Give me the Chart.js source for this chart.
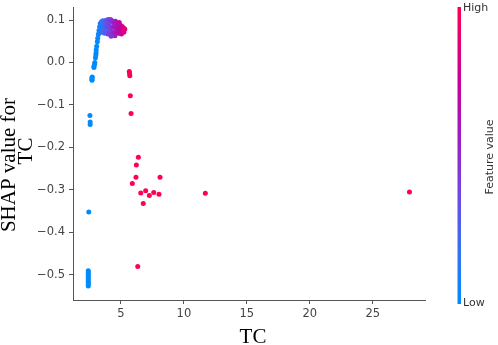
<!DOCTYPE html>
<html>
<head>
<meta charset="utf-8">
<script src="https://cdn.jsdelivr.net/npm/chart.js@4.4.0/dist/chart.umd.min.js"></script>
<style>
html,body{margin:0;padding:0;background:#fff;}
#wrap{width:498px;height:345px;position:relative;}
</style>
</head>
<body>
<div id="wrap"><canvas id="c" width="498" height="345"></canvas></div>
<script>
// ---- data (TC value, SHAP value) ----
const tcValues = [
  // lower blue column
  2.40,2.40,2.40,2.40,2.40,2.40,2.40,2.40,2.40,2.40,
  2.44,
  2.53,2.55,2.55,
  // rising blue column
  2.69,2.69,2.70,2.72,2.85,2.85,2.90,2.92,2.97,3.00,3.02,3.03,3.07,3.12,3.15,3.20,3.25,
  // cluster upper
  3.35,3.45,3.55,3.68,3.78,3.88,3.97,4.08,4.17,4.28,4.36,4.47,4.56,4.66,4.75,4.86,4.95,5.05,5.15,5.25,
  // cluster middle
  3.30,3.42,3.52,3.62,3.72,3.83,3.92,4.02,4.12,4.22,4.40,4.50,4.62,4.72,4.83,4.92,5.02,5.12,5.22,5.30,
  // cluster lower
  3.25,3.35,3.47,3.58,3.70,3.80,3.95,4.06,4.18,4.32,4.46,4.62,4.78,4.92,5.03,4.52,4.22,
  // pink points
  5.66,5.68,5.70,5.74,5.80,6.38,6.22,6.19,8.10,5.90,6.57,6.96,7.25,7.60,6.77,8.02,11.70,27.92,6.33
];
const shapValues = [
  -0.490,-0.494,-0.498,-0.502,-0.506,-0.510,-0.514,-0.518,-0.522,-0.526,
  -0.352,
  -0.125,-0.140,-0.146,
  -0.036,-0.040,-0.042,-0.034,-0.012,-0.009,-0.004,0.000,0.011,0.018,0.023,0.030,0.038,0.049,0.057,0.066,0.069,
  0.092,0.096,0.098,0.094,0.099,0.096,0.101,0.097,0.101,0.098,0.096,0.093,0.097,0.091,0.089,0.094,0.087,0.086,0.083,0.080,
  0.084,0.088,0.083,0.087,0.081,0.088,0.083,0.090,0.085,0.081,0.083,0.087,0.080,0.085,0.078,0.083,0.076,0.074,0.071,0.078,
  0.075,0.078,0.071,0.076,0.069,0.074,0.067,0.073,0.065,0.071,0.068,0.072,0.069,0.071,0.067,0.063,0.062,
  -0.021,-0.026,-0.031,-0.078,-0.120,-0.223,-0.241,-0.270,-0.270,-0.285,-0.307,-0.302,-0.313,-0.306,-0.332,-0.310,-0.308,-0.305,-0.480
];
const xTicks = [5, 10, 15, 20, 25];
const xTickLabels = ['5', '10', '15', '20', '25'];
const yTicks = [0.1, 0.0, -0.1, -0.2, -0.3, -0.4, -0.5];
const yTickLabels = ['0.1', '0.0', '\u22120.1', '\u22120.2', '\u22120.3', '\u22120.4', '\u22120.5'];
const colorMin = 3.1, colorMax = 5.6;   // feature value range of the colour scale
const xTitle = 'TC';
const yTitleLines = ['SHAP value for', 'TC'];
const cbarHigh = 'High', cbarLow = 'Low', cbarTitle = 'Feature value';

// ---- colour map (SHAP red_blue approximation) ----
const stops = [
  [0.00, [0, 139, 251]],
  [0.20, [58, 111, 242]],
  [0.40, [122, 63, 224]],
  [0.55, [154, 31, 196]],
  [0.75, [200, 0, 156]],
  [1.00, [255, 0, 82]]
];
function cmap(t){
  t = Math.max(0, Math.min(1, t));
  for (let i = 1; i < stops.length; i++){
    if (t <= stops[i][0]){
      const a = stops[i-1], b = stops[i];
      const f = (t - a[0]) / (b[0] - a[0]);
      const c = a[1].map((v, k) => Math.round(v + (b[1][k] - v) * f));
      return 'rgb(' + c.join(',') + ')';
    }
  }
  return 'rgb(255,0,82)';
}

const points = tcValues.map((x, i) => ({x: x, y: shapValues[i]}));

const overlay = {
  id: 'overlay',
  afterDraw(chart){
    const ctx = chart.ctx;
    ctx.save();
    // colour bar
    const cx = 457.5, cw = 3.5, top = 7, bot = 304;
    const g = ctx.createLinearGradient(0, bot, 0, top);
    stops.forEach(s => g.addColorStop(s[0], 'rgb(' + s[1].join(',') + ')'));
    ctx.fillStyle = g;
    ctx.fillRect(cx, top, cw, bot - top);
    ctx.fillStyle = '#333';
    ctx.font = '11px "DejaVu Sans"';
    ctx.textBaseline = 'middle';
    ctx.textAlign = 'left';
    ctx.fillText(cbarHigh, 463, 8);
    ctx.fillText(cbarLow, 463, 303);
    ctx.save();
    ctx.translate(490, 157);
    ctx.rotate(-Math.PI / 2);
    ctx.textAlign = 'center';
    ctx.fillText(cbarTitle, 0, 0);
    ctx.restore();
    // axis titles
    ctx.fillStyle = '#000';
    ctx.font = '21px "Liberation Serif"';
    ctx.textAlign = 'center';
    ctx.textBaseline = 'alphabetic';
    ctx.fillText(xTitle, 253, 343);
    ctx.save();
    ctx.translate(15, 165);
    ctx.rotate(-Math.PI / 2);
    ctx.fillText(yTitleLines[0], 0, 0);
    ctx.restore();
    ctx.save();
    ctx.translate(32, 151);
    ctx.rotate(-Math.PI / 2);
    ctx.fillText(yTitleLines[1], 0, 0);
    ctx.restore();
    ctx.restore();
  }
};

new Chart(document.getElementById('c'), {
  type: 'scatter',
  data: {
    datasets: [{
      data: points,
      pointRadius: 2.5,
      pointHoverRadius: 2.5,
      pointBorderWidth: 0,
      pointBackgroundColor: ctx => cmap((ctx.raw.x - colorMin) / (colorMax - colorMin)),
      pointBorderColor: 'rgba(0,0,0,0)'
    }]
  },
  options: {
    responsive: false,
    animation: false,
    events: [],
    layout: {padding: {left: 0, right: 73, top: 7, bottom: 0}},
    plugins: {legend: {display: false}, tooltip: {enabled: false}},
    scales: {
      x: {
        type: 'linear',
        min: 1.186, max: 29.156,
        afterBuildTicks: s => { s.ticks = xTicks.map(v => ({value: v})); },
        afterFit: s => { s.height = 45; s.paddingLeft = 0; s.paddingRight = 0; },
        ticks: {
          callback: (v) => xTickLabels[xTicks.indexOf(v)],
          color: '#444', font: {family: 'DejaVu Sans', size: 11.5}, padding: 3, maxRotation: 0
        },
        grid: {display: true, drawOnChartArea: false, drawTicks: true, tickLength: 4, color: '#555'},
        border: {display: true, color: '#555', width: 1}
      },
      y: {
        type: 'linear',
        min: -0.559, max: 0.1306,
        afterBuildTicks: s => { s.ticks = yTicks.map(v => ({value: v})); },
        afterFit: s => { s.width = 73; s.paddingTop = 0; s.paddingBottom = 0; },
        ticks: {
          callback: (v) => { const i = yTicks.findIndex(t => Math.abs(t - v) < 1e-9); return yTickLabels[i]; },
          color: '#444', font: {family: 'DejaVu Sans', size: 11.5}, padding: 4
        },
        grid: {display: true, drawOnChartArea: false, drawTicks: true, tickLength: 4, color: '#555'},
        border: {display: true, color: '#555', width: 1}
      }
    }
  },
  plugins: [overlay]
});
</script>
</body>
</html>
